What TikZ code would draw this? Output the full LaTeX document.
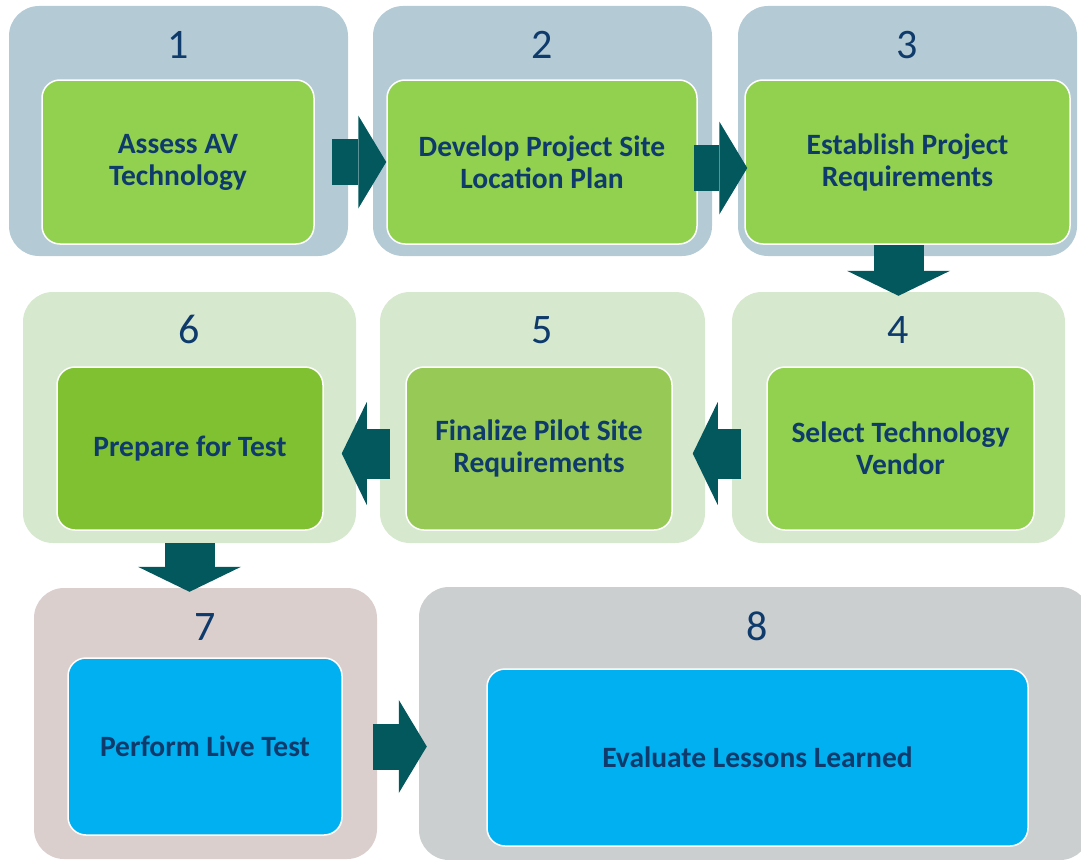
\documentclass[tikz,border=0pt]{standalone}
\usepackage{fontspec}
\setmainfont{Carlito}
\usetikzlibrary{arrows.meta}
\usetikzlibrary{calc}
\usetikzlibrary{positioning}

\definecolor{planblue}{RGB}{180,203,214}
\definecolor{vendorgreen}{RGB}{214,232,205}
\definecolor{testrose}{RGB}{219,207,206}
\definecolor{lessongray}{RGB}{204,207,208}
\definecolor{taskgreen}{RGB}{146,208,80}
\definecolor{pilotgreen}{RGB}{151,201,87}
\definecolor{prepgreen}{RGB}{128,193,49}
\definecolor{taskblue}{RGB}{0,176,240}
\definecolor{arrowteal}{RGB}{2,88,92}
\definecolor{textnavy}{RGB}{14,59,107}

\tikzset{
	stage/.style={rectangle,rounded corners=30pt,inner sep=0pt},
	task/.style={rectangle,rounded corners=18pt,draw=white,line width=1.5pt,inner sep=0pt,
		text=textnavy,align=center,font=\fontsize{29.5}{32}\selectfont\bfseries},
	num/.style={text=textnavy,inner sep=0pt,font=\fontsize{42}{48}\selectfont},
	thinarrow/.style={draw=arrowteal,line width=46pt,-{Triangle[width=93pt,length=28pt,line width=0pt]}},
	widearrow/.style={draw=arrowteal,line width=50pt,-{Triangle[width=103pt,length=25pt,line width=0pt]}}
}

\begin{document}
\begin{tikzpicture}[x=1pt,y=-1pt]
		\clip (0,0) rectangle (1081,859);

		% stages
		\node [stage,fill=planblue,minimum width=339pt,minimum height=250pt] (out1) at (178.5,131) {};
		\node [stage,fill=planblue,minimum width=339pt,minimum height=250pt] (out2) at (542.5,131) {};
		\node [stage,fill=planblue,minimum width=339pt,minimum height=250pt] (out3) at (907.5,131) {};
		\node [stage,fill=vendorgreen,minimum width=333pt,minimum height=251pt] (out4) at (898.5,417.5) {};
		\node [stage,fill=vendorgreen,minimum width=325pt,minimum height=251pt] (out5) at (542.5,417.5) {};
		\node [stage,fill=vendorgreen,minimum width=333pt,minimum height=251pt] (out6) at (189.5,417.5) {};
		\node [stage,fill=testrose,minimum width=343pt,minimum height=271pt] (out7) at (205.5,723.5) {};
		\node [stage,fill=lessongray,minimum width=671pt,minimum height=273pt] (out8) at (754.5,723.5) {};

		\node [num] (n1) at ([yshift=-39pt]out1.north) {1};
		\node [num] (n2) at ([yshift=-39pt]out2.north) {2};
		\node [num] (n3) at ([yshift=-39pt]out3.north) {3};
		\node [num] (n4) at ([yshift=-38pt]out4.north) {4};
		\node [num] (n5) at ([yshift=-38pt]out5.north) {5};
		\node [num] (n6) at ([yshift=-38pt]out6.north) {6};
		\node [num] (n7) at ([yshift=-39pt]out7.north) {7};
		\node [num] (n8) at ([shift={(3pt,-40pt)}]out8.north) {8};

		% tasks
		\node [task,fill=taskgreen,minimum width=272pt,minimum height=164pt] (in1) at (178,162) {Assess AV\\Technology};
		\node [task,fill=taskgreen,minimum width=310pt,minimum height=164pt] (in2) at (542,162) {Develop Project Site\\Location Plan};
		\node [task,fill=taskgreen,minimum width=325pt,minimum height=164pt] (in3) at (907.5,162) {Establish Project\\Requirements};
		\node [task,fill=taskgreen,minimum width=267pt,minimum height=163pt] (in4) at (900.5,448.5) {Select Technology\\Vendor};
		\node [task,fill=pilotgreen,minimum width=266pt,minimum height=163pt] (in5) at (539,448.5) {Finalize Pilot Site\\Requirements};
		\node [task,fill=prepgreen,minimum width=266pt,minimum height=163pt] (in6) at (190,448.5) {Prepare for Test};
		\node [task,fill=taskblue,minimum width=274pt,minimum height=177pt] (in7) at (205,746.5) {Perform Live Test};
		\node [task,fill=taskblue,minimum width=541pt,minimum height=177pt] (in8) at (757.5,757.5) {Evaluate Lessons Learned};

		% arrows
		\draw [thinarrow] ([xshift=17pt]in1.east) -- (in2.west);
		\draw [thinarrow] ([shift={(-4pt,-6pt)}]in2.east) -- ([shift={(3pt,-6pt)}]in3.west);
		\draw [widearrow] (in3.south -| out4.north) -- ([yshift=-4pt]out4.north);
		\draw [widearrow] ([shift={(-25pt,-5pt)}]in4.west) -- ([shift={(20pt,-5pt)}]in5.east);
		\draw [widearrow] ([shift={(-15pt,-5pt)}]in5.west) -- ([shift={(18pt,-5pt)}]in6.east);
		\draw [widearrow] (out6.south) -- ([yshift=-4pt]out6.south |- out7.north);
		\draw [thinarrow] ([xshift=30pt]in7.east) -- ([xshift=8pt]out8.west |- in7.east);
	\end{tikzpicture}
\end{document}
